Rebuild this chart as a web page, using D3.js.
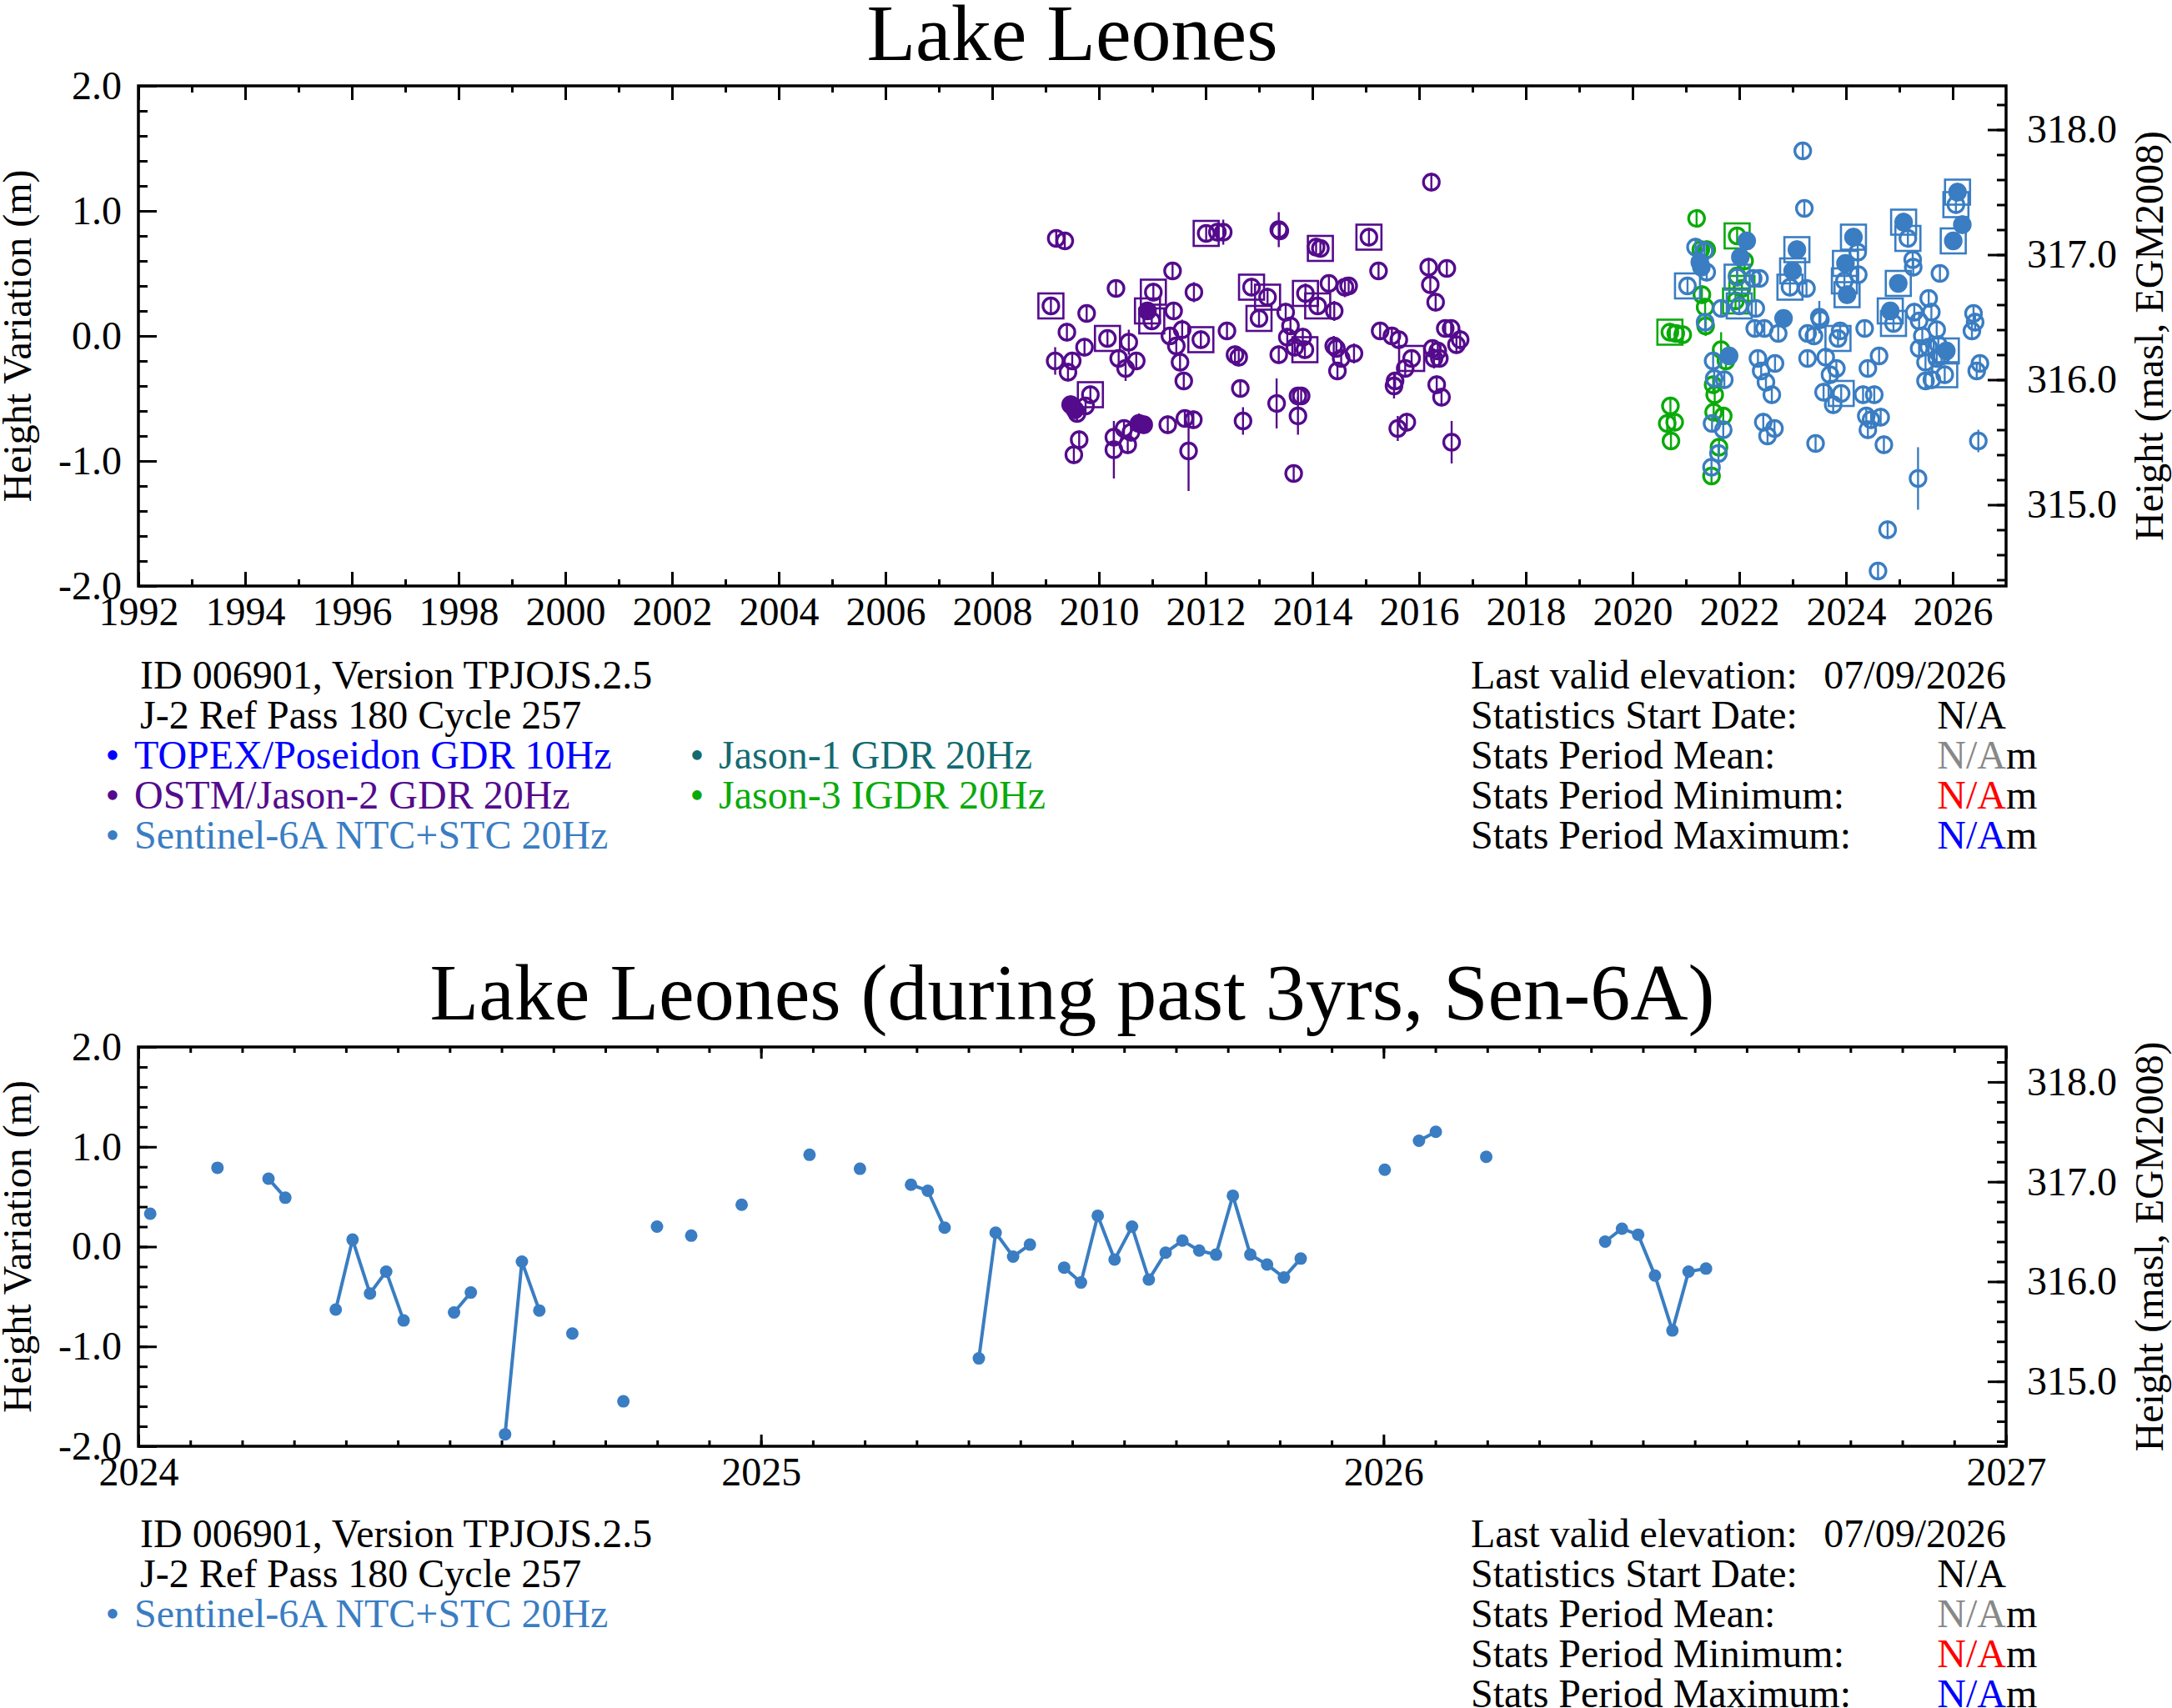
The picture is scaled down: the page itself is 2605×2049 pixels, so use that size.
<!DOCTYPE html>
<html>
<head>
<meta charset="utf-8">
<script src="https://cdn.jsdelivr.net/npm/d3@7"></script>
<style>
body { margin: 0; background: #fff; }
svg { display: block; }
text { font-family: "Liberation Serif", "Times New Roman", serif; }
</style>
</head>
<body>
<div id="chart"></div>
<script>
// ---- data ----
// top chart points: [decimal year, height variation (m), flag, error (m, optional)]
// flag: 0 open circle, 1 filled, 2 open + box, 3 filled + box
var jason2 = [
    [2009.10, 0.24, 2], [2009.18, -0.20, 0, 0.11], [2009.20, 0.78, 0], [2009.36, 0.76, 0],
    [2009.40, 0.03, 0], [2009.42, -0.29, 0], [2009.47, -0.55, 1], [2009.50, -0.20, 0],
    [2009.53, -0.95, 0], [2009.55, -0.59, 1], [2009.59, -0.62, 0], [2009.63, -0.83, 0],
    [2009.73, -0.09, 0], [2009.75, -0.56, 0], [2009.77, 0.18, 0], [2009.84, -0.47, 2],
    [2010.16, -0.02, 2], [2010.28, -0.81, 0], [2010.28, -0.91, 0, 0.23], [2010.32, 0.38, 0],
    [2010.37, -0.18, 0], [2010.47, -0.74, 0], [2010.50, -0.26, 0, 0.1], [2010.54, -0.87, 0],
    [2010.56, -0.05, 0, 0.1], [2010.60, -0.77, 0], [2010.70, -0.20, 0], [2010.75, -0.70, 1, 0.08],
    [2010.84, -0.71, 1], [2010.91, 0.20, 3], [2010.99, 0.12, 2], [2011.02, 0.35, 2],
    [2011.29, -0.71, 0], [2011.33, 0.00, 0], [2011.38, 0.52, 0], [2011.40, 0.20, 0],
    [2011.45, -0.08, 0], [2011.52, -0.21, 0], [2011.56, 0.05, 0, 0.08], [2011.59, -0.36, 0],
    [2011.61, -0.66, 0], [2011.68, -0.92, 0, 0.32], [2011.77, -0.67, 0], [2011.78, 0.35, 0, 0.08],
    [2011.91, -0.03, 2], [2012.01, 0.82, 2], [2012.22, 0.83, 0], [2012.33, 0.83, 0, 0.1],
    [2012.40, 0.04, 0], [2012.55, -0.15, 0], [2012.62, -0.17, 0], [2012.65, -0.42, 0],
    [2012.70, -0.68, 0, 0.11], [2012.86, 0.39, 2], [2013.00, 0.14, 2], [2013.16, 0.31, 2],
    [2013.33, -0.54, 0, 0.2], [2013.37, 0.85, 0, 0.14], [2013.39, 0.84, 0], [2013.37, -0.15, 0],
    [2013.50, 0.19, 0], [2013.53, -0.01, 0], [2013.59, 0.08, 0], [2013.65, -1.10, 0],
    [2013.67, -0.09, 0], [2013.73, -0.48, 0], [2013.73, -0.64, 0, 0.15], [2013.79, -0.48, 0],
    [2013.82, -0.01, 0], [2013.86, -0.11, 2], [2013.87, 0.34, 2, 0.08], [2014.07, 0.71, 0],
    [2014.10, 0.24, 2], [2014.15, 0.70, 2], [2014.31, 0.42, 0], [2014.40, -0.08, 0, 0.08],
    [2014.41, 0.20, 0, 0.08], [2014.45, -0.10, 0], [2014.47, -0.28, 0], [2014.54, -0.18, 0],
    [2014.61, 0.39, 0, 0.08], [2014.68, 0.40, 0], [2014.78, -0.14, 0, 0.08], [2015.06, 0.79, 2],
    [2015.24, 0.52, 0], [2015.27, 0.04, 0], [2015.49, 0.00, 0], [2015.53, -0.40, 0, 0.1],
    [2015.55, -0.36, 0], [2015.60, -0.74, 0, 0.1], [2015.62, -0.03, 0], [2015.74, -0.26, 0],
    [2015.77, -0.69, 0], [2015.86, -0.18, 2], [2016.18, 0.55, 0, 0.07], [2016.21, 0.41, 0],
    [2016.23, 1.23, 0], [2016.25, -0.10, 0], [2016.28, -0.18, 0, 0.08], [2016.31, 0.27, 0],
    [2016.33, -0.39, 0], [2016.35, -0.12, 0], [2016.38, -0.18, 0], [2016.42, -0.49, 0],
    [2016.49, 0.06, 0], [2016.52, 0.54, 0], [2016.60, 0.06, 0], [2016.61, -0.85, 0, 0.17],
    [2016.70, -0.07, 0], [2016.77, -0.03, 0, 0.08]
];

var jason3 = [
    [2020.65, -0.70, 0], [2020.70, 0.03, 2], [2020.71, -0.56, 0], [2020.72, -0.84, 0],
    [2020.79, -0.69, 0], [2020.81, 0.02, 0], [2020.94, 0.01, 0], [2021.20, 0.94, 0],
    [2021.28, 0.69, 0], [2021.30, 0.33, 0], [2021.36, 0.23, 0], [2021.37, 0.08, 0, 0.08],
    [2021.39, 0.69, 0], [2021.48, -1.12, 0], [2021.51, -0.39, 0], [2021.52, -0.61, 0],
    [2021.54, -0.47, 0], [2021.62, -0.89, 0], [2021.66, -0.11, 0, 0.14], [2021.70, -0.64, 0],
    [2021.75, -0.20, 0], [2021.93, 0.28, 2], [2021.96, 0.80, 2], [2021.96, 0.48, 0],
    [2022.05, 0.38, 2], [2022.10, 0.60, 0]
];

var sentinel6 = [
    [2021.03, 0.40, 2], [2021.18, 0.71, 0], [2021.26, 0.59, 1], [2021.29, 0.55, 1],
    [2021.35, 0.68, 0, 0.08], [2021.36, 0.11, 0], [2021.39, 0.51, 0], [2021.48, -1.05, 0],
    [2021.49, -0.70, 0], [2021.51, -0.20, 0], [2021.53, -0.34, 0], [2021.61, -0.94, 0],
    [2021.66, 0.22, 0], [2021.70, -0.75, 0], [2021.72, -0.35, 0], [2021.81, -0.16, 1],
    [2021.96, 0.47, 2], [2022.00, 0.24, 2], [2022.02, 0.63, 1], [2022.14, 0.76, 1],
    [2022.26, 0.46, 0], [2022.29, 0.06, 0], [2022.31, 0.22, 0], [2022.35, -0.18, 0],
    [2022.38, 0.46, 0], [2022.41, -0.28, 0], [2022.45, -0.69, 0], [2022.47, 0.06, 0],
    [2022.50, -0.37, 0], [2022.53, -0.80, 0], [2022.61, -0.47, 0], [2022.66, -0.74, 0],
    [2022.67, -0.22, 0], [2022.73, 0.02, 0], [2022.83, 0.14, 1], [2022.95, 0.39, 2],
    [2023.00, 0.52, 3], [2023.08, 0.69, 3], [2023.19, 1.48, 0], [2023.22, 1.02, 0],
    [2023.26, 0.38, 0], [2023.28, 0.02, 0], [2023.28, -0.18, 0], [2023.40, 0.00, 0],
    [2023.43, -0.86, 0], [2023.50, 0.15, 0, 0.13], [2023.52, 0.13, 0], [2023.58, -0.45, 0],
    [2023.62, -0.17, 0], [2023.70, -0.31, 0], [2023.76, -0.55, 0], [2023.82, -0.26, 0],
    [2023.85, -0.02, 2], [2023.89, 0.04, 0], [2023.91, -0.46, 2], [2023.97, 0.44, 2],
    [2023.99, 0.58, 3], [2024.02, 0.33, 3], [2024.14, 0.79, 3], [2024.22, 0.67, 0],
    [2024.23, 0.49, 0], [2024.32, -0.47, 0], [2024.35, 0.06, 0], [2024.38, -0.64, 0],
    [2024.41, -0.26, 0], [2024.41, -0.75, 0], [2024.47, -0.67, 0], [2024.53, -0.47, 0],
    [2024.60, -1.88, 0], [2024.62, -0.16, 0], [2024.65, -0.65, 0], [2024.71, -0.87, 0],
    [2024.78, -1.55, 0], [2024.83, 0.20, 3], [2024.89, 0.10, 2], [2024.98, 0.42, 3],
    [2025.08, 0.91, 3], [2025.16, 0.78, 2], [2025.25, 0.61, 0], [2025.26, 0.55, 0],
    [2025.28, 0.19, 0], [2025.35, -1.14, 0, 0.25], [2025.37, 0.12, 0], [2025.37, -0.10, 0],
    [2025.43, 0.00, 0], [2025.49, -0.21, 0], [2025.49, -0.36, 0], [2025.55, 0.30, 0],
    [2025.55, -0.09, 0], [2025.60, 0.19, 0], [2025.61, -0.35, 0], [2025.70, 0.05, 0],
    [2025.70, -0.18, 0], [2025.73, -0.07, 0], [2025.76, 0.50, 0], [2025.79, -0.16, 0],
    [2025.85, -0.31, 2], [2025.88, -0.12, 3], [2026.01, 0.76, 3], [2026.06, 1.05, 2],
    [2026.09, 1.15, 3], [2026.18, 0.89, 1], [2026.36, 0.04, 0], [2026.39, 0.18, 0],
    [2026.42, 0.11, 0], [2026.45, -0.28, 0], [2026.48, -0.84, 0, 0.09], [2026.51, -0.22, 0]
];

// bottom chart: Sentinel-6A during the past 3 years
var s6Years = [
    2024.019, 2024.127, 2024.209, 2024.236, 2024.317, 2024.344, 2024.372, 2024.398, 2024.426,
    2024.507, 2024.534, 2024.589, 2024.616, 2024.644, 2024.697, 2024.779, 2024.833, 2024.888,
    2024.969, 2025.078, 2025.159, 2025.241, 2025.268, 2025.295, 2025.350, 2025.377, 2025.405,
    2025.432, 2025.487, 2025.514, 2025.541, 2025.568, 2025.596, 2025.623, 2025.650, 2025.677,
    2025.704, 2025.731, 2025.758, 2025.786, 2025.813, 2025.840, 2025.867, 2026.002, 2026.057,
    2026.084, 2026.165, 2026.356, 2026.383, 2026.409, 2026.436, 2026.464, 2026.490, 2026.518
];
var s6Heights = [
    0.33, 0.79, 0.68, 0.49, -0.63, 0.07, -0.47, -0.25, -0.74,
    -0.66, -0.46, -1.88, -0.15, -0.64, -0.87, -1.55, 0.20, 0.11,
    0.42, 0.92, 0.78, 0.62, 0.56, 0.19, -1.12, 0.14, -0.10,
    0.02, -0.21, -0.36, 0.31, -0.13, 0.20, -0.33, -0.06, 0.06,
    -0.04, -0.08, 0.51, -0.08, -0.18, -0.31, -0.12, 0.77, 1.06,
    1.15, 0.90, 0.05, 0.18, 0.12, -0.29, -0.84, -0.25, -0.22
];

var yMajor = [-2, -1, 0, 1, 2];
var rightMajor = [315, 316, 317, 318];
var topYearTicks = d3.range(1992, 2027, 2);
var bottomYearTicks = [2024, 2025, 2026, 2027];
var infoLines = ["ID 006901, Version TPJOJS.2.5", "J-2 Ref Pass 180 Cycle 257"];
var statLabels = ["Last valid elevation:", "Statistics Start Date:", "Stats Period Mean:",
                  "Stats Period Minimum:", "Stats Period Maximum:"];
var statValues = ["07/09/2026", "N/A", "N/A", "N/A", "N/A"];
var statUnits = ["", "", "m", "m", "m"];
var statColors = ["#000", "#000", "#888888", "#ff0000", "#0000ff"];

var col = {
    topex: "#0000ff",
    jason1: "#136b70",
    jason2: "#540b8c",
    jason3: "#0aaa0a",
    s6: "#3a7dc2"
};

// ---- layout ----
var W = 2605, H = 2049;
var L = 166, R = 2406;
var OFFSET = 316.35;   // masl = variation + OFFSET
var FS = 48;

var svg = d3.select("#chart").append("svg")
    .attr("width", W)
    .attr("height", H);

function styleAxis(g) {
    g.select(".domain").remove();
    g.selectAll("line").attr("stroke", "#000").attr("stroke-width", 3);
    g.selectAll("text").attr("font-size", FS).attr("fill", "#000")
        .attr("font-family", '"Liberation Serif", "Times New Roman", serif');
    g.attr("font-size", null).attr("font-family", null);
}

function drawAxes(xs, ys, xMajor, xMinor, xMajLen, xMinLen) {
    var yTop = ys.range()[1], yBot = ys.range()[0];
    var ysR = d3.scaleLinear().domain([-2 + OFFSET, 2 + OFFSET]).range(ys.range());
    var fmt = function (d) { return d.toFixed(1); };

    svg.append("g").attr("transform", `translate(0,${yBot})`)
        .call(d3.axisBottom(xs).tickValues(xMinor).tickSize(-xMinLen).tickFormat("")).call(styleAxis);
    svg.append("g").attr("transform", `translate(0,${yBot})`)
        .call(d3.axisBottom(xs).tickValues(xMajor).tickSize(-xMajLen).tickPadding(13).tickFormat(d3.format("d"))).call(styleAxis);
    svg.append("g").attr("transform", `translate(0,${yTop})`)
        .call(d3.axisTop(xs).tickValues(xMinor).tickSize(-xMinLen).tickFormat("")).call(styleAxis);
    svg.append("g").attr("transform", `translate(0,${yTop})`)
        .call(d3.axisTop(xs).tickValues(xMajor).tickSize(-xMajLen).tickFormat("")).call(styleAxis);

    svg.append("g").attr("transform", `translate(${L},0)`)
        .call(d3.axisLeft(ys).tickValues(d3.range(-2, 2.01, 0.2)).tickSize(-11).tickFormat("")).call(styleAxis);
    svg.append("g").attr("transform", `translate(${L},0)`)
        .call(d3.axisLeft(ys).tickValues(yMajor).tickSize(-22).tickPadding(20).tickFormat(fmt)).call(styleAxis);

    svg.append("g").attr("transform", `translate(${R},0)`)
        .call(d3.axisRight(ysR).tickValues(d3.range(314.4, 318.36, 0.2)).tickSize(-11).tickFormat("")).call(styleAxis);
    svg.append("g").attr("transform", `translate(${R},0)`)
        .call(d3.axisRight(ysR).tickValues(rightMajor).tickSize(-22).tickPadding(25).tickFormat(fmt)).call(styleAxis);

    svg.append("rect")
        .attr("x", L).attr("y", yTop)
        .attr("width", R - L).attr("height", yBot - yTop)
        .attr("fill", "none").attr("stroke", "#000").attr("stroke-width", 3.5);

    var cy = (yTop + yBot) / 2;
    svg.append("text").attr("transform", `translate(37,${cy}) rotate(-90)`)
        .attr("text-anchor", "middle").attr("font-size", FS).text("Height Variation (m)");
    svg.append("text").attr("transform", `translate(2594,${cy}) rotate(-90)`)
        .attr("text-anchor", "middle").attr("font-size", FS).text("Height (masl, EGM2008)");
}

function drawInfo(y0, legend) {
    var step = 48;
    infoLines.forEach(function (s, i) {
        svg.append("text").attr("x", 168).attr("y", y0 + i * step).attr("font-size", FS).text(s);
    });
    legend.forEach(function (d) {
        var y = y0 + (2 + d.row) * step;
        var x = d.column === 0 ? 135 : 836;
        svg.append("text").attr("x", x).attr("y", y).attr("text-anchor", "middle")
            .attr("font-size", FS).attr("fill", d.color).text("\u2022");
        svg.append("text").attr("x", x + 26).attr("y", y)
            .attr("font-size", FS).attr("fill", d.color).text(d.name);
    });
    statLabels.forEach(function (s, i) {
        var y = y0 + i * step;
        svg.append("text").attr("x", 1764).attr("y", y).attr("font-size", FS).text(s);
        svg.append("text").attr("x", R).attr("y", y).attr("text-anchor", "end")
            .attr("font-size", FS).attr("fill", statColors[i]).text(statValues[i]);
        if (statUnits[i]) {
            svg.append("text").attr("x", R).attr("y", y).attr("font-size", FS).text(statUnits[i]);
        }
    });
}

// ---- top chart ----
var x1 = d3.scaleLinear().domain([1992, 2027]).range([L, R]);
var y1 = d3.scaleLinear().domain([-2, 2]).range([703, 103]);

svg.append("text").attr("x", (L + R) / 2).attr("y", 72).attr("text-anchor", "middle")
    .attr("font-size", 96).text("Lake Leones");

function drawSeries(data, color) {
    var g = svg.append("g");
    var r = 9.5;
    data.forEach(function (d) {
        var cx = x1(d[0]), cy = y1(d[1]);
        var e = d[3] || 0;
        var half = Math.max(r + 1.5, y1(d[1] - e) - cy);
        g.append("line")
            .attr("x1", cx).attr("x2", cx)
            .attr("y1", cy - half).attr("y2", cy + half)
            .attr("stroke", color).attr("stroke-width", 2.4);
        g.append("circle")
            .attr("cx", cx).attr("cy", cy).attr("r", r)
            .attr("fill", (d[2] & 1) ? color : "none")
            .attr("stroke", color).attr("stroke-width", 3.3);
        if (d[2] & 2) {
            g.append("rect")
                .attr("x", cx - 15).attr("y", cy - 15)
                .attr("width", 30).attr("height", 30)
                .attr("fill", "none").attr("stroke", color).attr("stroke-width", 2.6);
        }
    });
}

drawSeries(jason2, col.jason2);
drawSeries(jason3, col.jason3);
drawSeries(sentinel6, col.s6);

drawAxes(x1, y1, topYearTicks, d3.range(1993, 2027, 1), 17, 8);

drawInfo(826, [
    {name: "TOPEX/Poseidon GDR 10Hz", color: col.topex, column: 0, row: 0},
    {name: "OSTM/Jason-2 GDR 20Hz", color: col.jason2, column: 0, row: 1},
    {name: "Sentinel-6A NTC+STC 20Hz", color: col.s6, column: 0, row: 2},
    {name: "Jason-1 GDR 20Hz", color: col.jason1, column: 1, row: 0},
    {name: "Jason-3 IGDR 20Hz", color: col.jason3, column: 1, row: 1}
]);

// ---- bottom chart ----
var x2 = d3.scaleLinear().domain([2024, 2027]).range([L, R]);
var y2 = d3.scaleLinear().domain([-2, 2]).range([1735, 1256]);

svg.append("text").attr("x", (L + R) / 2).attr("y", 1223).attr("text-anchor", "middle")
    .attr("font-size", 96).text("Lake Leones (during past 3yrs, Sen-6A)");

// split into runs of consecutive ~10-day cycles
var pts = s6Years.map(function (t, i) { return [t, s6Heights[i]]; });
var runs = [[pts[0]]];
for (var i = 1; i < pts.length; i++) {
    if (pts[i][0] - pts[i - 1][0] < 0.04) runs[runs.length - 1].push(pts[i]);
    else runs.push([pts[i]]);
}

var line = d3.line()
    .x(function (d) { return x2(d[0]); })
    .y(function (d) { return y2(d[1]); });

svg.append("g").selectAll("path")
    .data(runs.filter(function (r) { return r.length > 1; }))
    .join("path")
    .attr("d", line)
    .attr("fill", "none")
    .attr("stroke", col.s6)
    .attr("stroke-width", 4);

svg.append("g").selectAll("circle")
    .data(pts)
    .join("circle")
    .attr("cx", function (d) { return x2(d[0]); })
    .attr("cy", function (d) { return y2(d[1]); })
    .attr("r", 7.5)
    .attr("fill", col.s6);

drawAxes(x2, y2, bottomYearTicks, d3.range(0, 37).map(function (m) { return 2024 + m / 12; }), 14, 7);

drawInfo(1856, [
    {name: "Sentinel-6A NTC+STC 20Hz", color: col.s6, column: 0, row: 0}
]);
</script>
</body>
</html>
